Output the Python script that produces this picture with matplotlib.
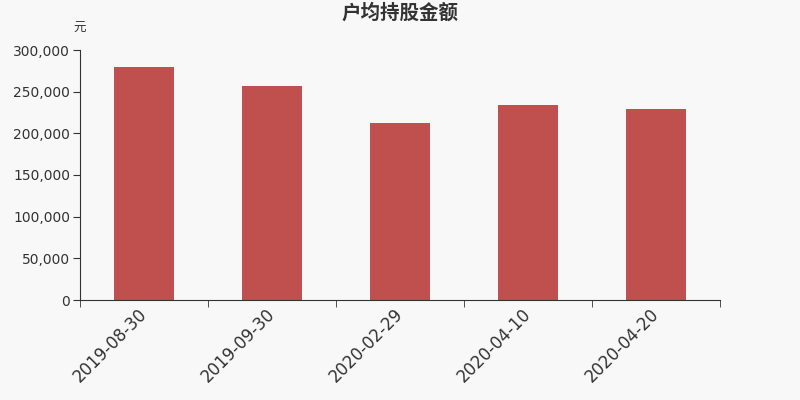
import matplotlib.pyplot as plt
import numpy as np
from matplotlib.ticker import FuncFormatter

plt.rcParams['font.family'] = ['Noto Sans CJK SC', 'DejaVu Sans']

dates = ['2019-08-30', '2019-09-30', '2020-02-29', '2020-04-10', '2020-04-20']
amounts = [279200, 257200, 212000, 234400, 229600]

bg = '#f8f8f8'
fig = plt.figure(figsize=(8, 4), dpi=100, facecolor=bg)
ax = fig.add_axes([0.1, 0.25, 0.8, 0.625], facecolor=bg)

x = np.arange(len(dates))
ax.bar(x, amounts, width=0.47, color='#c0504d')

ax.set_xlim(-0.5, len(dates) - 0.5)
ax.set_ylim(0, 300000)
ax.set_yticks(np.arange(0, 300001, 50000))
ax.yaxis.set_major_formatter(FuncFormatter(lambda v, p: f'{int(v):,}'))

ax.set_xticks(x)
ax.set_xticklabels(dates, rotation=45, ha='right', va='center',
                   rotation_mode='anchor', fontsize=12, color='#333333',
                   family='DejaVu Sans')
ax.set_xticks(np.arange(-0.5, len(dates), 1), minor=True)
ax.tick_params(axis='x', which='major', length=0, pad=8)
ax.tick_params(axis='x', which='minor', length=5, color='#333333')
ax.tick_params(axis='y', length=5, color='#333333', labelsize=10,
               labelcolor='#333333', pad=2)
for lab in ax.get_yticklabels():
    lab.set_family('DejaVu Sans')

for s in ['top', 'right']:
    ax.spines[s].set_visible(False)
for s in ['left', 'bottom']:
    ax.spines[s].set_color('#333333')

fig.text(0.5, 0.9675, '户均持股金额', ha='center', va='center',
         fontsize=14, fontweight='bold', color='#333333')
fig.text(0.099, 0.928, '元', ha='center', va='center', fontsize=9,
         color='#333333')

fig.savefig('out.png', dpi=100, facecolor=bg)
